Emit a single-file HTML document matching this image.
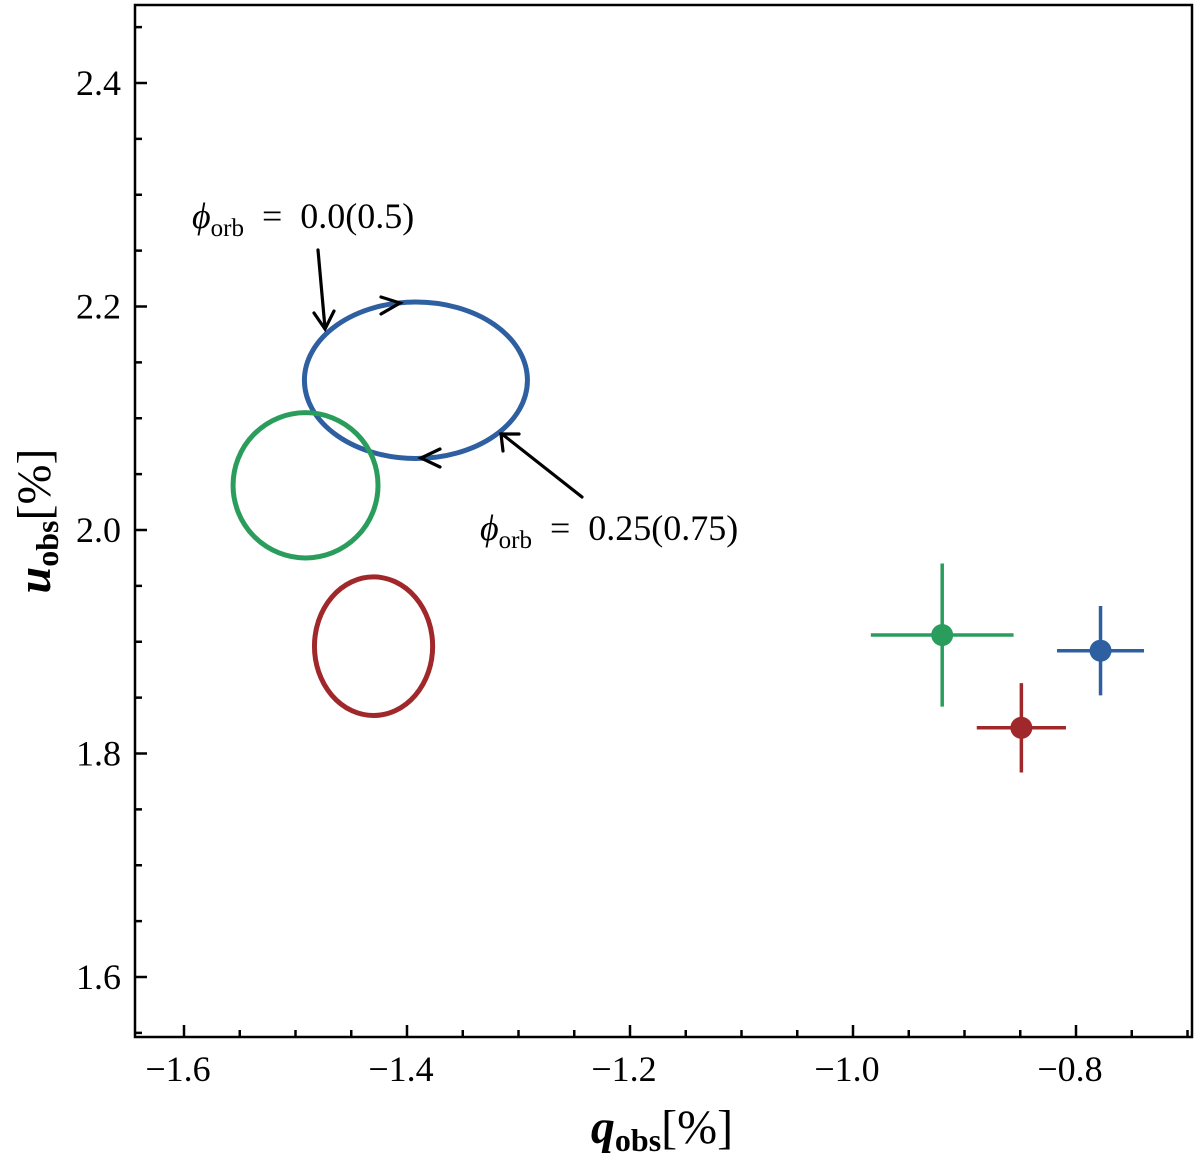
<!DOCTYPE html>
<html><head><meta charset="utf-8"><style>
html,body{margin:0;padding:0;background:#fff;}
svg{display:block;font-family:"Liberation Serif",serif;}
</style></head><body>
<svg id="chart" width="1200" height="1158" viewBox="0 0 1200 1158" xmlns="http://www.w3.org/2000/svg"></svg>
<script>
const xTicks=[-1.6,-1.4,-1.2,-1.0,-0.8];
const xTickLabels=["−1.6","−1.4","−1.2","−1.0","−0.8"];
const yTicks=[1.6,1.8,2.0,2.2,2.4];
const yTickLabels=["1.6","1.8","2.0","2.2","2.4"];
const ellipseNames=["blue","green","red"];
const ellipseCx=[-1.392,-1.491,-1.430];
const ellipseCy=[2.134,2.040,1.896];
const ellipseRx=[0.100,0.065,0.053];
const ellipseRy=[0.070,0.065,0.062];
const pointNames=["green","red","blue"];
const pointQ=[-0.920,-0.849,-0.778];
const pointU=[1.906,1.823,1.892];
const pointQErr=[0.064,0.040,0.039];
const pointUErr=[0.064,0.040,0.040];
const colors={blue:"#2e5fa1",green:"#2a9d5c",red:"#a0282b"};

const L=135,R=1192,T=5,B=1037;
const X=v=>184+(v+1.6)*1115;
const Y=v=>83+(2.4-v)*1117.5;
const svg=document.getElementById('chart');
const NS="http://www.w3.org/2000/svg";
function mk(tag,attrs,parent){const e=document.createElementNS(NS,tag);for(const k in attrs)e.setAttribute(k,attrs[k]);(parent||svg).appendChild(e);return e;}

const frame=mk('rect',{x:L,y:T,width:R-L,height:B-T,fill:'none',stroke:'#000','stroke-width':2.5});



for(let v=-1.65;v<=-0.69;v+=0.05){const px=X(v);if(px<L||px>R)continue;
 const major=xTicks.some(t=>Math.abs(t-v)<1e-6);
 const t=mk('line',{x1:px,x2:px,y1:B,y2:B-(major?12:7),stroke:'#000','stroke-width':2.5});
 
 }
xTicks.forEach((v,i)=>{const t=mk('text',{x:X(v)-6,y:1081,'font-size':36,'text-anchor':'middle'});t.textContent=xTickLabels[i];
 
 });
for(let v=1.55;v<=2.47;v+=0.05){const py=Y(v);if(py<T||py>B)continue;
 const major=yTicks.some(t=>Math.abs(t-v)<1e-6);
 const t=mk('line',{x1:L,x2:L+(major?12:7),y1:py,y2:py,stroke:'#000','stroke-width':2.5});
 
 }
yTicks.forEach((v,i)=>{const t=mk('text',{x:121,y:Y(v)+12,'font-size':36,'text-anchor':'end'});t.textContent=yTickLabels[i];
 
 });

const xt=mk('text',{x:662,y:1143,'font-size':48,'text-anchor':'middle'});
xt.innerHTML='<tspan font-weight="bold" font-style="italic">q</tspan><tspan font-weight="bold" font-size="32" dy="8">obs</tspan><tspan dy="-8">[%]</tspan>';


const yt=mk('text',{x:0,y:0,'font-size':48,'text-anchor':'middle',transform:'translate(50,521) rotate(-90)'});
yt.innerHTML='<tspan font-weight="bold" font-style="italic">u</tspan><tspan font-weight="bold" font-size="32" dy="8">obs</tspan><tspan dy="-8">[%]</tspan>';



ellipseNames.forEach((n,i)=>{const e=mk('ellipse',{cx:X(ellipseCx[i]),cy:Y(ellipseCy[i]),rx:ellipseRx[i]*1115,ry:ellipseRy[i]*1117.5,fill:'none',stroke:colors[n],'stroke-width':5});
 
 });

pointNames.forEach((n,i)=>{const g=mk('g',{stroke:colors[n],'stroke-width':3.5});
 
 
 const cx=X(pointQ[i]),cy=Y(pointU[i]);
 mk('line',{x1:X(pointQ[i]-pointQErr[i]),x2:X(pointQ[i]+pointQErr[i]),y1:cy,y2:cy},g);
 mk('line',{x1:cx,x2:cx,y1:Y(pointU[i]+pointUErr[i]),y2:Y(pointU[i]-pointUErr[i])},g);
 mk('circle',{cx:cx,cy:cy,r:11,fill:colors[n],stroke:'none'},g);});

const ann=mk('g',{stroke:'#000','stroke-width':3.2,fill:'none','stroke-linecap':'round'});


mk('line',{x1:318,y1:250,x2:325,y2:328},ann);
mk('polyline',{points:'314,313 325,329 334,311'},ann);
mk('line',{x1:582,y1:497,x2:502,y2:434},ann);
mk('polyline',{points:'503,451 501,434 519,434'},ann);
mk('polyline',{points:'381,297 400,303 381,314'},ann);
mk('polyline',{points:'440,449 421,458 440,467'},ann);

const a1=mk('text',{x:192,y:228,'font-size':36});
a1.innerHTML='<tspan font-style="italic">ϕ</tspan><tspan font-size="25" dy="8">orb</tspan><tspan dy="-8" xml:space="preserve">  =  0.0(0.5)</tspan>';


const a2=mk('text',{x:480,y:540,'font-size':36});
a2.innerHTML='<tspan font-style="italic">ϕ</tspan><tspan font-size="25" dy="8">orb</tspan><tspan dy="-8" xml:space="preserve">  =  0.25(0.75)</tspan>';


</script>
</body></html>
